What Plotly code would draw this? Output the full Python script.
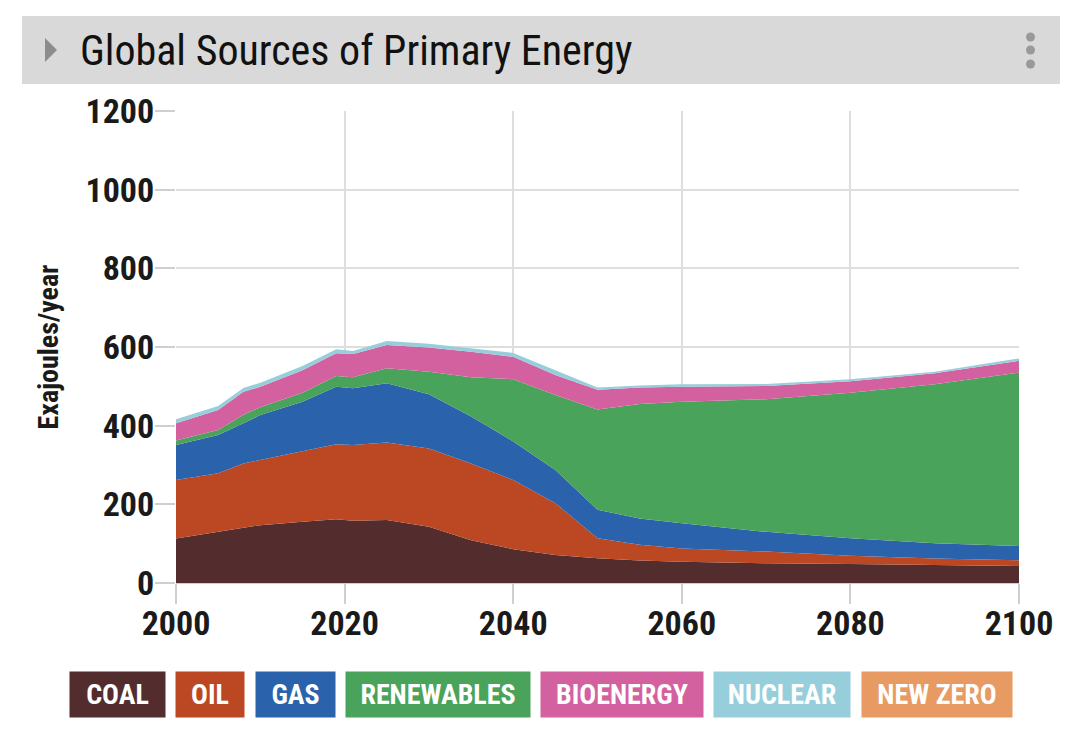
import plotly.graph_objects as go

# stacked primary energy sources, exajoules/year
years = [2000, 2005, 2008, 2010, 2015, 2019, 2021, 2025, 2030, 2035,
         2040, 2045, 2050, 2055, 2060, 2070, 2080, 2090, 2100]
coal = [113, 130, 139, 147, 156, 162, 158, 160, 143, 109,
        86, 71, 63, 57, 54, 50, 48, 45, 43]
oil = [149, 149, 165, 166, 178, 191, 193, 197, 199, 195,
       176, 132, 51, 40, 34, 30, 21, 17, 15]
gas = [89, 97, 102, 114, 127, 146, 144, 151, 138, 119,
       98, 84, 72, 67, 64, 50, 45, 39, 36]
renewables = [11, 13, 22, 20, 23, 27, 28, 38, 57, 100,
              158, 191, 255, 291, 309, 337, 370, 404, 441]
bioenergy = [44, 51, 58, 52, 57, 58, 59, 59, 62, 65,
             57, 51, 50, 42, 38, 34, 29, 28, 30]
nuclear = [10, 10, 10, 10, 11, 10, 8, 10, 9, 9,
           10, 12, 6, 5, 6, 5, 5, 4, 6]
new_zero = [0] * len(years)

labels = ["COAL", "OIL", "GAS", "RENEWABLES", "BIOENERGY", "NUCLEAR", "NEW ZERO"]
colors = ["#532c2e", "#bc4823", "#2a62ab", "#4aa35a", "#d4619f", "#96cfdb", "#e89a63"]
series = [coal, oil, gas, renewables, bioenergy, nuclear, new_zero]

# page has an 8px body margin, so work in window pixels and shift
OFF = 8
W, H = 1080 - 2 * OFF, 752 - 2 * OFF
L, T = 176 - OFF, 111 - OFF
R, B = W - (1019 - OFF), H - (583 - OFF)
pw, ph = W - L - R, H - T - B

def px(x):
    return (x - OFF - L) / pw

def py(y):
    return (H - B - (y - OFF)) / ph

FONT = "Roboto Condensed, Liberation Sans Narrow, DejaVu Sans Condensed, Roboto, sans-serif"

fig = go.Figure()
for name, vals, col in zip(labels, series, colors):
    fig.add_trace(go.Scatter(x=years, y=vals, name=name, stackgroup="one",
                             mode="lines", line=dict(width=0, color=col),
                             fillcolor=col, hoverinfo="skip"))

# header bar
fig.add_shape(type="rect", xref="paper", yref="paper",
              x0=px(22), x1=px(1060), y0=py(84), y1=py(16),
              fillcolor="#d9d9d9", line_width=0, layer="below")
fig.add_shape(type="path", xref="paper", yref="paper",
              path=f"M {px(45)} {py(38)} L {px(57)} {py(50)} L {px(45)} {py(62)} Z",
              fillcolor="#8c8c8c", line_width=0)
for cy in [37, 50, 64]:
    fig.add_shape(type="circle", xref="paper", yref="paper",
                  x0=px(1026), x1=px(1035), y0=py(cy + 4.5), y1=py(cy - 4.5),
                  fillcolor="#999999", line_width=0)
fig.add_annotation(text="Global Sources of Primary Energy", xref="paper", yref="paper",
                   x=px(78), y=py(50), xanchor="left", yanchor="middle", showarrow=False,
                   font=dict(family=FONT, size=42, color="#111111"))

# legend chips
chips = [(70, 165), (176, 244), (256, 335), (346, 530), (541, 703), (714, 850), (862, 1012)]
for (x0, x1), name, col in zip(chips, labels, colors):
    fig.add_annotation(text=f"<b>{name}</b>", xref="paper", yref="paper",
                       x=px((x0 + x1) / 2), y=py(694.5), xanchor="center", yanchor="middle",
                       width=x1 - x0, height=45, bgcolor=col, borderpad=0,
                       showarrow=False, align="center", valign="middle",
                       font=dict(family=FONT, size=28, color="white"))

fig.update_layout(
    width=W, height=H, margin=dict(l=L, r=R, t=T, b=B),
    paper_bgcolor="white", plot_bgcolor="white", showlegend=False,
    font=dict(family=FONT, color="#1a1a1a"),
)
fig.update_xaxes(range=[2000, 2100], tickvals=[2000, 2020, 2040, 2060, 2080, 2100],
                 showgrid=True, gridcolor="#dedede", gridwidth=1.5,
                 ticks="outside", ticklen=20, tickcolor="#cfcfcf", tickwidth=1.5,
                 ticklabelstandoff=-10,
                 tickfont=dict(family=FONT, size=34, weight="bold", color="#1a1a1a"),
                 zeroline=False, showline=False)
fig.update_yaxes(range=[0, 1200], tickvals=[0, 200, 400, 600, 800, 1000, 1200],
                 showgrid=True, gridcolor="#dedede", gridwidth=1.5,
                 ticks="outside", ticklen=20, tickcolor="#cfcfcf", tickwidth=1.5,
                 ticklabelstandoff=-6,
                 tickfont=dict(family=FONT, size=34, weight="bold", color="#1a1a1a"),
                 title=dict(text="<b>Exajoules/year</b>", standoff=18,
                            font=dict(family=FONT, size=28, color="#1a1a1a")),
                 zeroline=True, zerolinecolor="#cfcfcf", zerolinewidth=1.5)

fig.write_html("out.html")
